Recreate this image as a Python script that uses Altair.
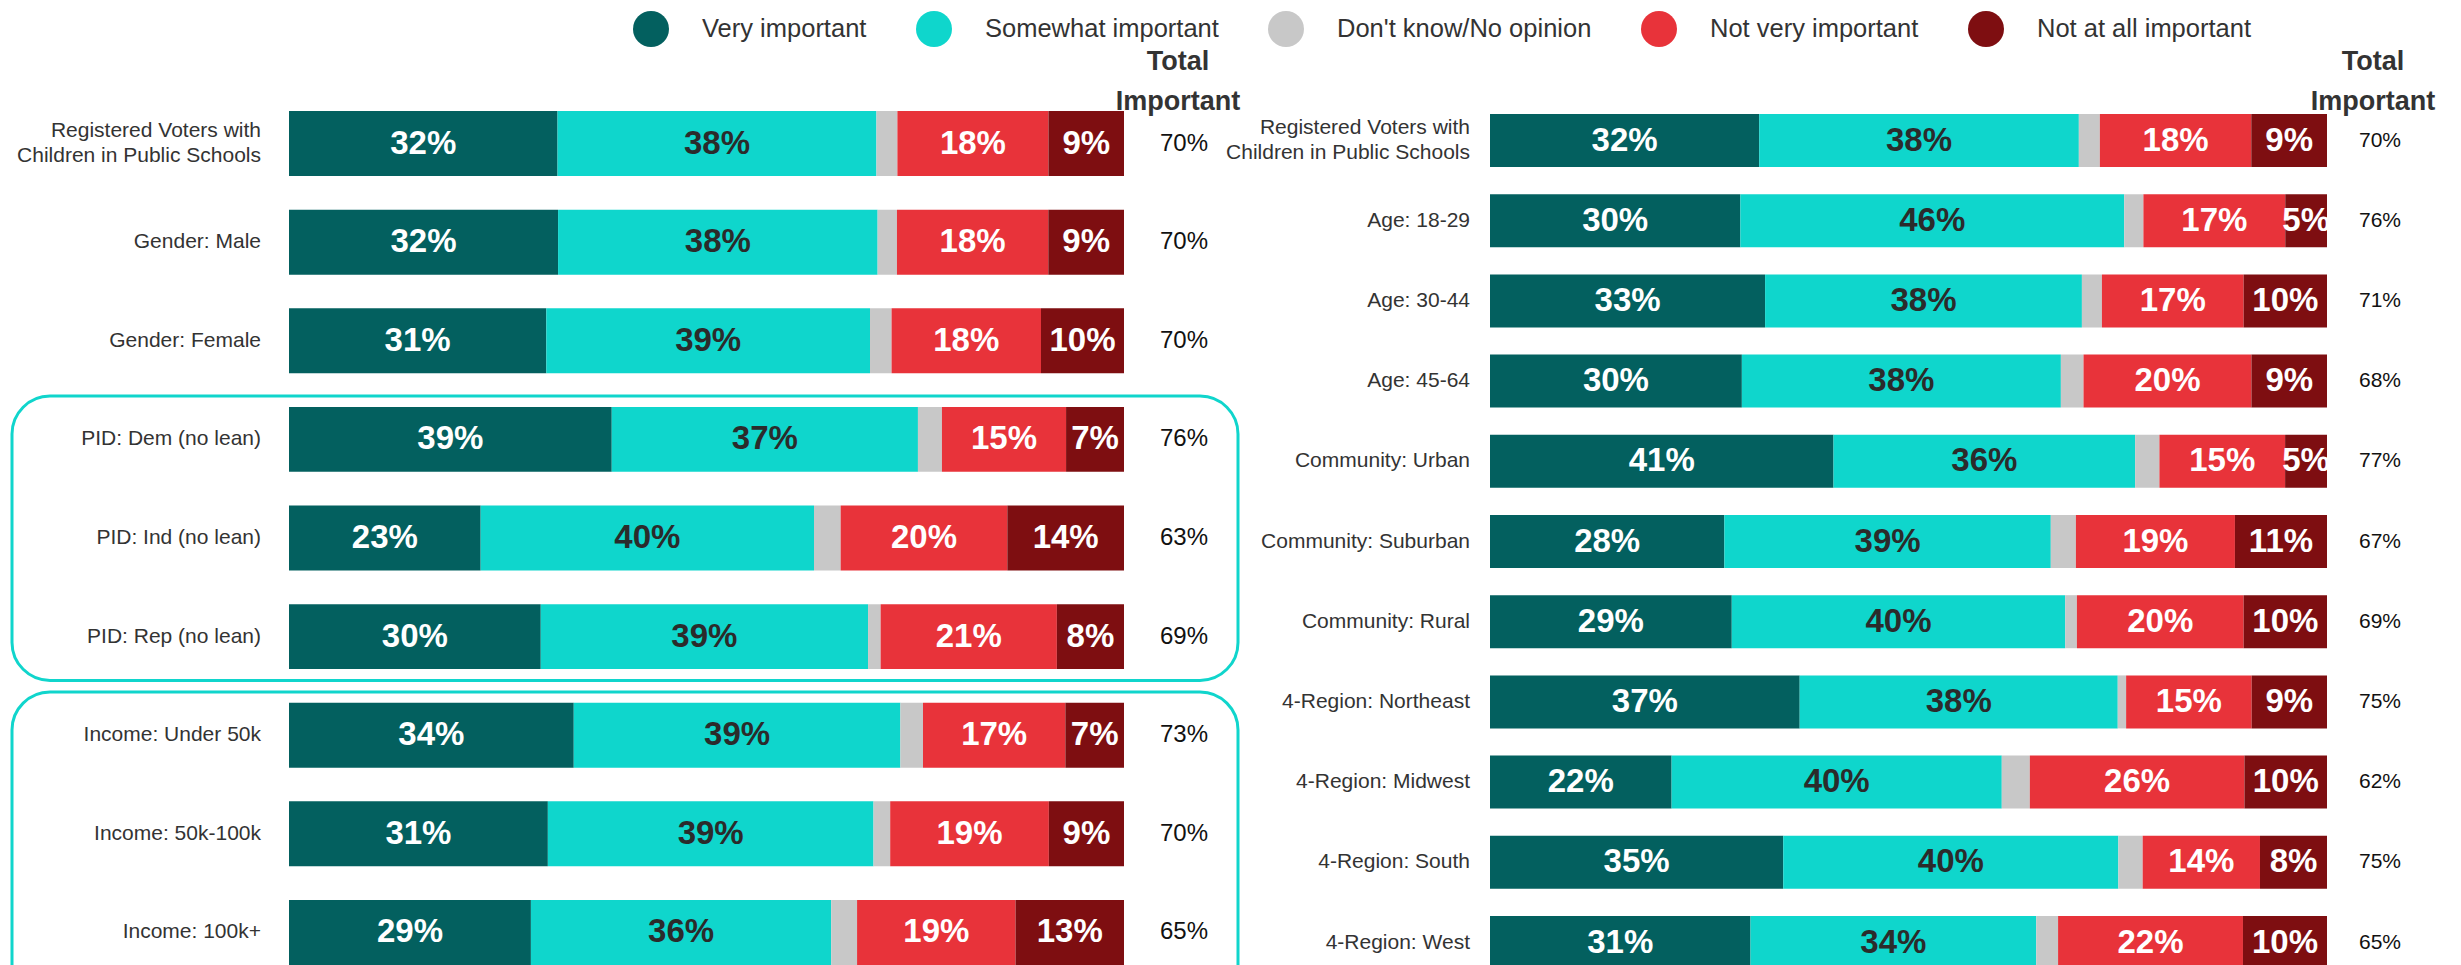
import altair as alt
import pandas as pd

FONT = "Liberation Sans, Arial, sans-serif"

cats = ["Very important", "Somewhat important", "Don't know/No opinion",
        "Not very important", "Not at all important"]
colors = ["#03605F", "#0FD6CC", "#C8C8C8", "#E8333A", "#7E0E11"]

# ---- left panel ----
rows_L = ["Registered Voters with\nChildren in Public Schools", "Gender: Male", "Gender: Female",
          "PID: Dem (no lean)", "PID: Ind (no lean)", "PID: Rep (no lean)",
          "Income: Under 50k", "Income: 50k-100k", "Income: 100k+"]
very_L = [32, 32, 31, 39, 23, 30, 34, 31, 29]
some_L = [38, 38, 39, 37, 40, 39, 39, 39, 36]
dk_L = [2.5, 2.3, 2.6, 2.9, 3.2, 1.5, 2.7, 2.0, 3.1]
notvery_L = [18, 18, 18, 15, 20, 21, 17, 19, 19]
notall_L = [9, 9, 10, 7, 14, 8, 7, 9, 13]
total_L = [70, 70, 70, 76, 63, 69, 73, 70, 65]

# ---- right panel ----
rows_R = ["Registered Voters with\nChildren in Public Schools", "Age: 18-29", "Age: 30-44", "Age: 45-64",
          "Community: Urban", "Community: Suburban", "Community: Rural",
          "4-Region: Northeast", "4-Region: Midwest", "4-Region: South", "4-Region: West"]
very_R = [32, 30, 33, 30, 41, 28, 29, 37, 22, 35, 31]
some_R = [38, 46, 38, 38, 36, 39, 40, 38, 40, 40, 34]
dk_R = [2.5, 2.3, 2.4, 2.7, 2.9, 3.0, 1.4, 1.0, 3.4, 2.9, 2.6]
notvery_R = [18, 17, 17, 20, 15, 19, 20, 15, 26, 14, 22]
notall_R = [9, 5, 10, 9, 5, 11, 10, 9, 10, 8, 10]
total_R = [70, 76, 71, 68, 77, 67, 69, 75, 62, 75, 65]

header_text = "Total\nImportant"

# grouped boxes (row index spans) on the left panel
box_start = [3, 6]
box_end = [6, 9.8]


def long_df(rows, series):
    recs = []
    for i, r in enumerate(rows):
        for k, c in enumerate(cats):
            v = series[k][i]
            recs.append({"row": r, "cat": c, "order": k, "value": v, "label": f"{v:.0f}%"})
    return pd.DataFrame(recs)


legend = alt.Legend(orient="none", legendX=625, legendY=3, direction="horizontal", columns=5,
                    title=None, symbolType="circle", symbolSize=1296, symbolStrokeWidth=0,
                    symbolOpacity=1, labelFont=FONT, labelFontSize=25.5, labelColor="#333333",
                    labelOffset=33, columnPadding=49, padding=0, labelLimit=500)


def panel(rows, series, totals, xrange, yrange, pad, label_dx, total_dx, total_size,
          header_dx, header_dy):
    df = long_df(rows, series)
    tot = pd.DataFrame({"row": rows, "total": [f"{t}%" for t in totals],
                        "nlines": [r.count("\n") + 1 for r in rows]})
    hdr = pd.DataFrame({"row": [rows[0]], "h": [header_text]})
    xs = alt.Scale(domain=[0, 1], range=xrange, nice=False, zero=False)
    ys = alt.Scale(domain=rows, range=yrange, paddingInner=pad, paddingOuter=pad / 2)
    Y = alt.Y("row:N", scale=ys, axis=None)

    base = alt.Chart(df).transform_stack(
        stack="value", groupby=["row"], as_=["v0", "v1"], offset="normalize",
        sort=[alt.SortField("order", order="ascending")]
    ).transform_calculate(mid="(datum.v0 + datum.v1) / 2")

    bars = base.mark_bar().encode(
        x=alt.X("v0:Q", scale=xs, axis=None),
        x2="v1:Q",
        y=Y,
        color=alt.Color("cat:N", scale=alt.Scale(domain=cats, range=colors), legend=legend),
    )
    white_lbl = base.transform_filter("datum.order != 1 && datum.order != 2").mark_text(
        font=FONT, fontSize=33, fontWeight="bold", color="#FFFFFF", baseline="middle"
    ).encode(x=alt.X("mid:Q"), y=Y, text="label:N")
    dark_lbl = base.transform_filter("datum.order == 1").mark_text(
        font=FONT, fontSize=33, fontWeight="bold", color="#2B2B2B", baseline="middle"
    ).encode(x=alt.X("mid:Q"), y=Y, text="label:N")

    row_lbl1 = alt.Chart(tot).transform_filter("datum.nlines == 1").mark_text(
        font=FONT, fontSize=21, color="#333333", align="right", baseline="middle",
        dx=label_dx
    ).encode(x=alt.datum(0), y=Y, text="row:N")
    row_lbl2 = alt.Chart(tot).transform_filter("datum.nlines == 2").mark_text(
        font=FONT, fontSize=21, color="#333333", align="right", baseline="middle",
        dx=label_dx, dy=-12.5, lineBreak="\n", lineHeight=25
    ).encode(x=alt.datum(0), y=Y, text="row:N")
    tot_lbl = alt.Chart(tot).mark_text(
        font=FONT, fontSize=total_size, color="#111111", align="center", baseline="middle",
        dx=total_dx
    ).encode(x=alt.datum(1), y=Y, text="total:N")
    head = alt.Chart(hdr).mark_text(
        font=FONT, fontSize=27, fontWeight="bold", color="#333333", align="center",
        baseline="alphabetic", dx=header_dx, dy=header_dy, lineBreak="\n", lineHeight=40
    ).encode(x=alt.datum(1), y=Y, text="h:N")
    return alt.layer(bars, white_lbl, dark_lbl, row_lbl1, row_lbl2, tot_lbl, head)


left = panel(rows_L, [very_L, some_L, dk_L, notvery_L, notall_L], total_L,
             xrange=[281, 1116], yrange=[86.2, 973.8], pad=0.341,
             label_dx=-28, total_dx=60, total_size=24, header_dx=54, header_dy=-74)
right = panel(rows_R, [very_R, some_R, dk_R, notvery_R, notall_R], total_R,
              xrange=[1482, 2319], yrange=[92.4, 974.6], pad=0.339,
              label_dx=-20, total_dx=53, total_size=21, header_dx=46, header_dy=-71)

boxes = alt.Chart(pd.DataFrame({"start": box_start, "end": box_end})).mark_rect(
    fillOpacity=0, stroke="#10D5CC", strokeWidth=3, cornerRadius=38, yOffset=6, y2Offset=-5.5
).encode(
    x=alt.value(4), x2=alt.value(1230),
    y=alt.Y("start:Q", scale=alt.Scale(domain=[0, 9], range=[86.2, 973.8], nice=False, zero=False),
            axis=None),
    y2="end:Q",
)

chart = alt.layer(left, right, boxes).resolve_scale(
    x="independent", y="independent", color="shared"
).properties(
    width=2445, height=957, padding=0,
    autosize=alt.AutoSizeParams(type="none"),
).configure_view(stroke=None)

chart.save("out.html", embed_options={"renderer": "svg", "actions": False})
